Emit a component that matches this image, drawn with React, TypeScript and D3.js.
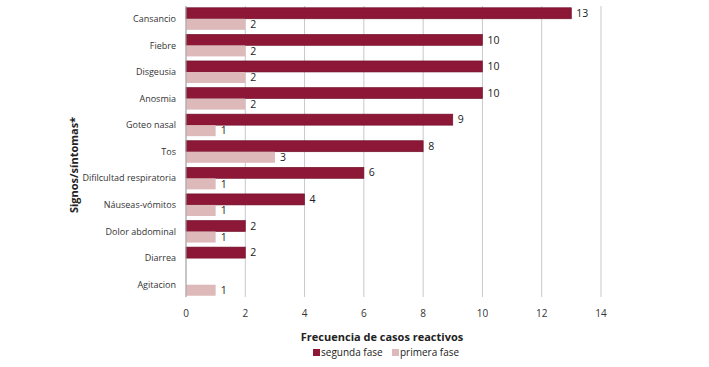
import * as React from 'react';
import * as d3 from 'd3';

const categories = [
    'Cansancio', 'Fiebre', 'Disgeusia', 'Anosmia', 'Goteo nasal', 'Tos',
    'Dificultad respiratoria', 'Náuseas-vómitos', 'Dolor abdominal', 'Diarrea', 'Agitacion',
];
const categoryLabels = [
    'Cansancio', 'Fiebre', 'Disgeusia', 'Anosmia', 'Goteo nasal', 'Tos',
    'Difilcultad respiratoria', 'Náuseas-vómitos', 'Dolor abdominal', 'Diarrea', 'Agitacion',
];
const segundaFase = [13, 10, 10, 10, 9, 8, 6, 4, 2, 2, 0];
const primeraFase = [2, 2, 2, 2, 1, 3, 1, 1, 1, 0, 1];
const xTicks = [0, 2, 4, 6, 8, 10, 12, 14];
const seriesNames = ['segunda fase', 'primera fase'];
const seriesColors = ['#8c1736', '#ddb9ba'];

const font = '"Open Sans", "DejaVu Sans", sans-serif';

const App: React.FunctionComponent = () => {
    const ref = React.useRef<SVGSVGElement>(null);
    const width = 709;
    const height = 367;

    React.useEffect(() => {
        if (!ref.current) {
            return;
        }
        const svg = d3.select(ref.current);
        svg.selectAll('*').remove();

        const x = d3.scaleLinear().domain([0, 14]).range([186, 601]);
        const y = d3.scaleBand<string>().domain(categories).range([5.5, 298]).paddingInner(0.17).paddingOuter(0.085);
        const inner = d3.scaleBand<number>().domain([0, 1]).range([0, y.bandwidth()]);

        // grid lines
        svg.append('g')
            .selectAll('line')
            .data(xTicks)
            .join('line')
            .attr('x1', d => x(d))
            .attr('x2', d => x(d))
            .attr('y1', 6)
            .attr('y2', 297)
            .attr('stroke', '#c8c8c8')
            .attr('stroke-width', 1);

        // tick labels
        svg.append('g')
            .selectAll('text')
            .data(xTicks)
            .join('text')
            .attr('x', d => x(d))
            .attr('y', 317)
            .attr('text-anchor', 'middle')
            .attr('font-family', font)
            .attr('font-size', 10)
            .attr('fill', '#333')
            .text(d => d);

        // category labels
        svg.append('g')
            .selectAll('text')
            .data(categories)
            .join('text')
            .attr('x', 176)
            .attr('y', d => (y(d) as number) + y.bandwidth() / 2)
            .attr('dy', '0.35em')
            .attr('text-anchor', 'end')
            .attr('font-family', font)
            .attr('font-size', 9)
            .attr('fill', '#333')
            .text((d, i) => categoryLabels[i]);

        const series = [segundaFase, primeraFase];
        series.forEach((values, si) => {
            const g = svg.append('g');
            const items = categories.map((c, i) => ({ c, v: values[i] })).filter(d => d.v > 0);
            g.selectAll('rect')
                .data(items)
                .join('rect')
                .attr('x', x(0))
                .attr('y', d => (y(d.c) as number) + (inner(si) as number))
                .attr('width', d => x(d.v) - x(0))
                .attr('height', inner.bandwidth())
                .attr('fill', seriesColors[si])
                .attr('stroke', si === 0 ? '#6e0f27' : 'none')
                .attr('stroke-width', 0.6);
            g.selectAll('text')
                .data(items)
                .join('text')
                .attr('x', d => x(d.v) + 5)
                .attr('y', d => (y(d.c) as number) + (inner(si) as number) + inner.bandwidth() / 2)
                .attr('dy', '0.35em')
                .attr('font-family', font)
                .attr('font-size', 10.5)
                .attr('fill', '#222')
                .text(d => d.v);
        });

        // axis line at 0
        svg.append('line')
            .attr('x1', x(0)).attr('x2', x(0))
            .attr('y1', 6).attr('y2', 297)
            .attr('stroke', '#a8a8a8');

        // x title
        svg.append('text')
            .attr('x', 382)
            .attr('y', 341)
            .attr('text-anchor', 'middle')
            .attr('font-family', font)
            .attr('font-size', 11)
            .attr('font-weight', 'bold')
            .attr('fill', '#222')
            .text('Frecuencia de casos reactivos');

        // y title
        svg.append('text')
            .attr('transform', 'translate(78,165) rotate(-90)')
            .attr('text-anchor', 'middle')
            .attr('font-family', font)
            .attr('font-size', 11)
            .attr('font-weight', 'bold')
            .attr('fill', '#222')
            .text('Signos/síntomas*');

        // legend
        const legendX = [313, 392];
        const legend = svg.append('g')
            .selectAll('g')
            .data(seriesNames)
            .join('g')
            .attr('transform', (d, i) => `translate(${legendX[i]},349)`);
        legend.append('rect')
            .attr('width', 7)
            .attr('height', 7)
            .attr('fill', (d, i) => seriesColors[i]);
        legend.append('text')
            .attr('x', 8)
            .attr('y', 3.5)
            .attr('dy', '0.35em')
            .attr('font-family', font)
            .attr('font-size', 10)
            .attr('fill', '#222')
            .text(d => d);
    });

    return (
        <svg ref={ref} width={width} height={height}
            style={{ position: 'absolute', left: 0, top: 0, background: '#fff' }} />
    );
};

export default App;
